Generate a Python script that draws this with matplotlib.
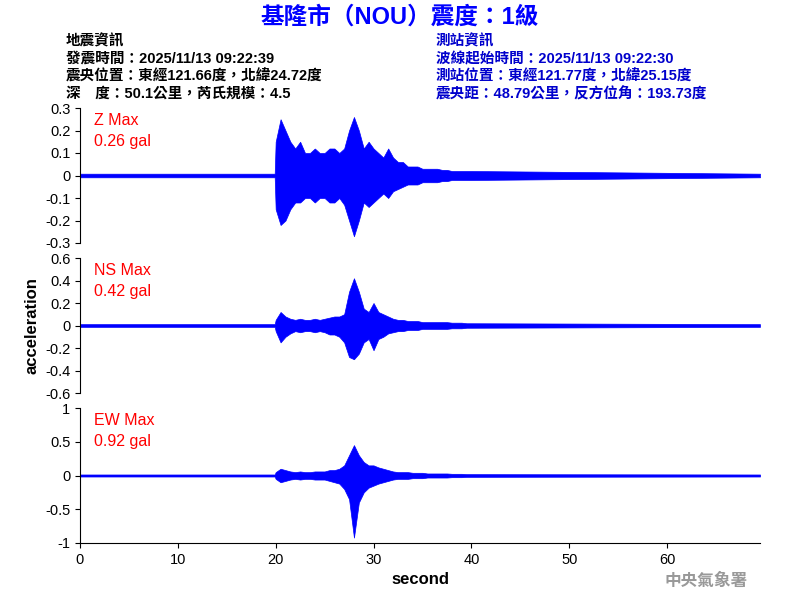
import numpy as np
import matplotlib.pyplot as plt

plt.rcParams['font.family'] = ['Liberation Sans', 'Noto Sans CJK TC', 'DejaVu Sans']

title = "基隆市（NOU）震度：1級"
quake_info = "地震資訊\n發震時間：2025/11/13 09:22:39\n震央位置：東經121.66度，北緯24.72度\n深　度：50.1公里，芮氏規模：4.5"
station_info = "測站資訊\n波線起始時間：2025/11/13 09:22:30\n測站位置：東經121.77度，北緯25.15度\n震央距：48.79公里，反方位角：193.73度"

# event window, 0.5 s steps from 20.0 to 40.0 s
event_t = np.arange(20.0, 40.01, 0.5)
z_up = [0.15, 0.25, 0.20, 0.15, 0.12, 0.15, 0.10, 0.10, 0.12, 0.10, 0.10, 0.12, 0.12, 0.10, 0.12, 0.20,
        0.26, 0.20, 0.12, 0.15, 0.12, 0.10, 0.08, 0.12, 0.08, 0.06, 0.06, 0.04, 0.04, 0.04, 0.03, 0.03,
        0.03, 0.03, 0.025, 0.025, 0.02, 0.02, 0.02, 0.02, 0.02]
z_lo = [-0.15, -0.22, -0.20, -0.15, -0.12, -0.12, -0.10, -0.10, -0.12, -0.10, -0.10, -0.12, -0.12, -0.10, -0.13, -0.20,
        -0.27, -0.20, -0.12, -0.14, -0.12, -0.10, -0.08, -0.10, -0.07, -0.06, -0.05, -0.04, -0.04, -0.04, -0.03, -0.03,
        -0.03, -0.03, -0.025, -0.025, -0.02, -0.02, -0.02, -0.02, -0.02]
ns_up = [0.05, 0.12, 0.08, 0.06, 0.05, 0.06, 0.05, 0.05, 0.06, 0.05, 0.06, 0.07, 0.08, 0.08, 0.10, 0.30,
         0.42, 0.30, 0.15, 0.12, 0.20, 0.12, 0.10, 0.08, 0.06, 0.05, 0.05, 0.04, 0.04, 0.04, 0.03, 0.03,
         0.03, 0.03, 0.03, 0.03, 0.025, 0.025, 0.025, 0.02, 0.02]
ns_lo = [-0.05, -0.15, -0.10, -0.07, -0.05, -0.06, -0.05, -0.05, -0.06, -0.05, -0.06, -0.08, -0.08, -0.10, -0.15, -0.28,
         -0.30, -0.25, -0.15, -0.12, -0.22, -0.12, -0.10, -0.07, -0.06, -0.05, -0.05, -0.04, -0.04, -0.04, -0.03, -0.03,
         -0.03, -0.03, -0.03, -0.03, -0.025, -0.025, -0.025, -0.02, -0.02]
ew_up = [0.05, 0.10, 0.08, 0.06, 0.05, 0.06, 0.05, 0.05, 0.06, 0.06, 0.06, 0.08, 0.08, 0.10, 0.15, 0.30,
         0.45, 0.30, 0.20, 0.15, 0.15, 0.12, 0.10, 0.08, 0.06, 0.05, 0.05, 0.05, 0.04, 0.04, 0.04, 0.03,
         0.03, 0.03, 0.03, 0.03, 0.025, 0.025, 0.025, 0.02, 0.02]
ew_lo = [-0.05, -0.10, -0.08, -0.06, -0.05, -0.06, -0.05, -0.05, -0.06, -0.06, -0.06, -0.08, -0.10, -0.12, -0.20, -0.35,
         -0.92, -0.40, -0.25, -0.18, -0.15, -0.12, -0.10, -0.08, -0.06, -0.05, -0.05, -0.05, -0.04, -0.04, -0.04, -0.03,
         -0.03, -0.03, -0.03, -0.03, -0.025, -0.025, -0.025, -0.02, -0.02]
noise = {"Z": 0.008, "NS": 0.012, "EW": 0.015}
labels = ["Z Max\n0.26 gal", "NS Max\n0.42 gal", "EW Max\n0.92 gal"]
limits = [0.3, 0.6, 1.0]
yticks = [[0.3, 0.2, 0.1, 0, -0.1, -0.2, -0.3],
          [0.6, 0.4, 0.2, 0, -0.2, -0.4, -0.6],
          [1, 0.5, 0, -0.5, -1]]
t_end = 69.5

fig = plt.figure(figsize=(8, 6), dpi=100)
fig.text(0.5, 0.99, title, ha='center', va='top', color='#0000ff', fontsize=17, fontweight='bold')
fig.text(0.082, 0.943, quake_info, ha='left', va='top', fontsize=10.5, fontweight='bold', linespacing=1.3)
fig.text(0.545, 0.943, station_info, ha='left', va='top', fontsize=10.5, fontweight='bold', color='#0000cc', linespacing=1.3)

series = [("Z", z_up, z_lo), ("NS", ns_up, ns_lo), ("EW", ew_up, ew_lo)]
tops = [108, 258, 408]
for i, (name, up, lo) in enumerate(series):
    ax = fig.add_axes([80 / 800, 1 - (tops[i] + 135) / 600, 680 / 800, 135 / 600])
    n = noise[name]
    t = np.concatenate([[0, 19.9], event_t, [t_end]])
    u = np.concatenate([[n, n], up, [n]])
    l = np.concatenate([[-n, -n], lo, [-n]])
    ax.fill_between(t, l, u, color='#0000ff', linewidth=0.5, edgecolor='#0000ff')
    ax.set_xlim(0, t_end)
    ax.set_ylim(-limits[i], limits[i])
    ax.set_yticks(yticks[i])
    ax.set_yticklabels([f"{v:g}" for v in yticks[i]], fontsize=10.5)
    for s in ['top', 'right']:
        ax.spines[s].set_visible(False)
    if i < 2:
        ax.spines['bottom'].set_visible(False)
        ax.set_xticks([])
    else:
        ax.set_xticks(range(0, 70, 10))
        ax.tick_params(axis='x', labelsize=10.5)
        ax.set_xlabel("second", fontsize=12, fontweight='bold')
    if i == 1:
        ax.set_ylabel("acceleration", fontsize=12, fontweight='bold')
    ax.text(0.02, 0.96, labels[i], transform=ax.transAxes, ha='left', va='top',
            color='#ff0000', fontsize=11.5, linespacing=1.5)

fig.text(0.935, 0.018, "中央氣象署", ha='right', va='bottom', color='#999999', fontsize=12, fontweight='bold')
fig.savefig("out.png", dpi=100)
